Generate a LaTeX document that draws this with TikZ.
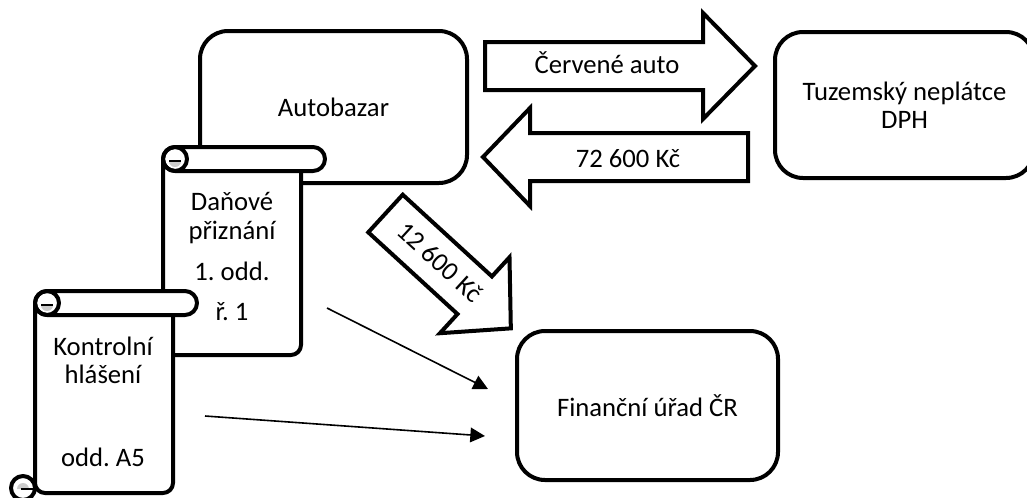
\documentclass[tikz,border=0pt]{standalone}
\usepackage{fontspec}
\setmainfont{Carlito}
\frenchspacing
\usetikzlibrary{arrows.meta}
\definecolor{curlgray}{gray}{0.8}
\tikzset{
  lbl/.style={font=\fontsize{20pt}{21pt}\selectfont, inner sep=0pt},
  box/.style={draw, line width=3pt, rounded corners=21pt, fill=white, lbl, align=center},
  blockarrow/.style={draw, line width=3pt, fill=white, line join=miter},
  scrollline/.style={draw, line width=3pt, line join=round},
  curlline/.style={draw, line width=2pt},
  flow/.style={line width=1.2pt, -{Triangle[length=11pt,width=11pt]}},
  % vertical scroll: argument = height of the sheet
  pics/vscroll/.style={code={
    % sheet
    \path[scrollline, fill=white, rounded corners=7.5pt] (0,12) -- (0,#1) -- (138,#1) -- (138,20);
    % top roll with its curl
    \path[scrollline, fill=white, rounded corners=9pt] (0,0) rectangle (162,24);
    \path[scrollline] (12,12) circle[radius=9pt];
    \path[fill=curlgray] (6,14) arc[start angle=180, end angle=360, radius=4.5pt] -- cycle;
    \path[curlline] (6,14) -- (18,14);
    % bottom curl
    \path[scrollline, fill=white] (-12,{#1-5}) circle[radius=9pt];
    \path[fill=curlgray] (-18,{#1-4}) arc[start angle=180, end angle=0, radius=4.5pt] -- cycle;
    \path[curlline] (-14,{#1-4}) -- (0,{#1-4});
  }},
}
\begin{document}
\begin{tikzpicture}[x=0.75pt, y=-0.75pt]
\useasboundingbox (0,0) rectangle (1027,497);
\clip (0,0) rectangle (1027,497);

% parties
\node[box, minimum width=200.25pt, minimum height=114pt] (bazar) at (333.5,107) {Autobazar};
\node[box, minimum width=194.25pt, minimum height=109.5pt] (buyer) at (904.5,105) {Tuzemský neplátce\\DPH};
\node[box, minimum width=195.75pt, minimum height=111.75pt] (office) at (647.5,405.5) {Finanční úřad ČR};

% car goes to the buyer
\path[blockarrow] (485,42) -- (703,42) -- (703,13) -- (755,66) -- (703,119) -- (703,90) -- (485,90) -- cycle;
\node[lbl, anchor=base] (car) at (607,73) {Červené auto};

% payment goes back
\path[blockarrow] (748,133) -- (530,133) -- (530,108) -- (483,157) -- (530,206) -- (530,181) -- (748,181) -- cycle;
\node[lbl, anchor=base] (price) at (628,167) {72 600 Kč};

% VAT paid to the tax office
\begin{scope}[shift={(385.5,213.5)}, rotate=-42.5]
  \path[blockarrow] (0,-25.5) -- (121,-25.5) -- (121,-51.5) -- (170,0) -- (121,51.5) -- (121,25.5) -- (0,25.5) -- cycle;
\end{scope}
\node[lbl, rotate=-42.5] (vat) at (440,262) {12 600 Kč};

% tax return
\pic (taxret) at (163,147) {vscroll=208};
\node[lbl, anchor=base] (tax1) at (232,210) {Daňové};
\node[lbl, anchor=base] (tax2) at (232,239) {přiznání};
\node[lbl, anchor=base] (tax3) at (232,280) {1. odd.};
\node[lbl, anchor=base] (tax4) at (232,320) {ř. 1};

% control statement
\pic (ctrlst) at (35,291) {vscroll=202};
\node[lbl, anchor=base] (ctrl1) at (103,355) {Kontrolní};
\node[lbl, anchor=base] (ctrl2) at (103,383) {hlášení};
\node[lbl, anchor=base] (ctrl3) at (103,466) {odd. A5};

% filings sent to the tax office
\coordinate (taxout) at (327,308);
\coordinate (officein1) at (488,389);
\coordinate (ctrlout) at (205,416);
\coordinate (officein2) at (485,436);
\draw[flow] (taxout) -- (officein1);
\draw[flow] (ctrlout) -- (officein2);
\end{tikzpicture}
\end{document}
